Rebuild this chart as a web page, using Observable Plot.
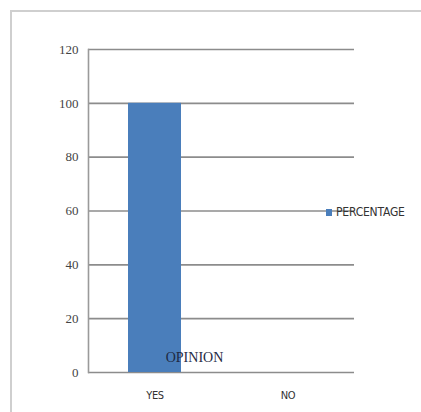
<!DOCTYPE html>
<html>
<head>
<meta charset="utf-8">
<script src="https://cdn.jsdelivr.net/npm/d3@7"></script>
<script src="https://cdn.jsdelivr.net/npm/@observablehq/plot@0.6"></script>
<style>
  html, body { margin: 0; padding: 0; background: #fff; }
  #wrap { position: relative; width: 421px; height: 412px; overflow: hidden; }
  #border { position: absolute; left: 10px; top: 10px; width: 420px; height: 420px;
            border-top: 2px solid #cfcfcf; border-left: 2px solid #cfcfcf; }
  #legend { position: absolute; left: 326px; top: 205px; display: flex; align-items: center;
            font-family: "DejaVu Sans Condensed", "DejaVu Sans", sans-serif; font-stretch: condensed;
            font-size: 12px; letter-spacing: -0.2px; color: #333; }
  #legend .sw { width: 6px; height: 7px; background: #4a7ebb; margin-right: 4px; }
  svg text { font-family: "Liberation Serif", "DejaVu Serif", serif; }
  svg g[aria-label="x-axis tick label"] text { font-family: "DejaVu Sans Condensed", "DejaVu Sans", sans-serif; font-stretch: condensed; letter-spacing: -0.3px; }
</style>
</head>
<body>
<div id="wrap">
  <div id="chart"></div>
  <div id="border"></div>
  <div id="legend"><div class="sw"></div><span id="legtext"></span></div>
</div>
<script>
const categories = ["YES", "NO"];
const percentage = [100, 0];
const yTicks = [0, 20, 40, 60, 80, 100, 120];
const seriesName = "PERCENTAGE";
const axisTitle = "OPINION";

const data = categories.map((c, i) => ({opinion: c, value: percentage[i]}));

const chart = Plot.plot({
  width: 421,
  height: 412,
  marginLeft: 88,
  marginRight: 67,
  marginTop: 49,
  marginBottom: 40,
  style: {background: "transparent", overflow: "visible"},
  x: {domain: categories, paddingInner: 0.6, paddingOuter: 0.3, label: null},
  y: {domain: [0, 120], label: null},
  marks: [
    Plot.ruleY(yTicks, {stroke: "#8c8c8c", strokeWidth: 1.6}),
    Plot.frame({anchor: "left", stroke: "#9a9a9a", strokeWidth: 1.6}),
    Plot.barY(data, {x: "opinion", y: "value", fill: "#4a7ebb"}),
    Plot.axisY({ticks: yTicks, tickSize: 0, tickPadding: 10, label: null,
      fontSize: 13, fill: "#444"}),
    Plot.axisX({tickSize: 0, tickPadding: 19, label: null,
      fontSize: 11, fill: "#333"}),
    Plot.text([axisTitle], {frameAnchor: "bottom", dx: -27, dy: -11,
      fontSize: 14, fill: "#1e2a44"})
  ]
});
document.getElementById("chart").appendChild(chart);
document.getElementById("legtext").textContent = seriesName;
</script>
</body>
</html>
